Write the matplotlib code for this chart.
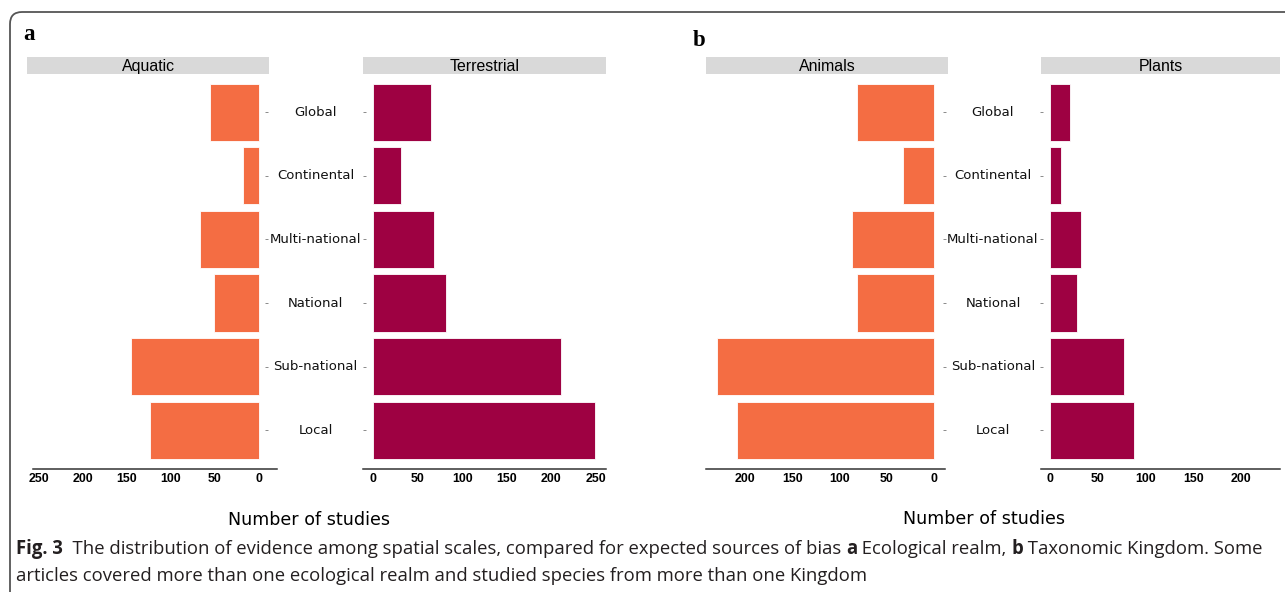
import matplotlib
matplotlib.use("Agg")
import matplotlib.pyplot as plt
from matplotlib.patches import FancyBboxPatch

W, H = 1285, 592

scales = ['Global', 'Continental', 'Multi-national', 'National', 'Sub-national', 'Local']
aquatic = [56, 18, 67, 51, 145, 124]
terrestrial = [65, 31, 68, 82, 211, 249]
animals = [81, 33, 87, 81, 230, 208]
plants = [21, 12, 32, 28, 78, 88]

left_ticks_a = [250, 200, 150, 100, 50, 0]
right_ticks_a = [0, 50, 100, 150, 200, 250]
left_ticks_b = [200, 150, 100, 50, 0]
right_ticks_b = [0, 50, 100, 150, 200]

ORANGE = '#F46D43'
CRIMSON = '#9E0142'
STRIP = '#D9D9D9'

fig = plt.figure(figsize=(W / 100, H / 100), dpi=100)


def px_axes(x0, y0, x1, y1):
    # pixel box (top-left origin) -> figure axes
    return fig.add_axes([x0 / W, 1 - y1 / H, (x1 - x0) / W, (y1 - y0) / H])


def bar_panel(x0, x1, values, color, xlim, ticks):
    ax = px_axes(x0, 74, x1, 468.5)
    ax.barh(range(len(values)), values, height=0.9, color=color,
            edgecolor='white', linewidth=0.6)
    ax.set_ylim(len(values) - 0.4, -0.6)
    ax.set_xlim(*xlim)
    ax.set_xticks(ticks)
    ax.set_xticklabels([str(t) for t in ticks], fontfamily='Liberation Sans',
                       fontweight='bold', fontsize=8.9)
    ax.tick_params(axis='x', length=0, pad=3.5)
    ax.set_yticks([])
    for s in ('top', 'left', 'right'):
        ax.spines[s].set_visible(False)
    ax.spines['bottom'].set_color('#333333')
    ax.spines['bottom'].set_linewidth(1.1)
    ax.set_facecolor('none')
    return ax


def strip(x0, x1, label):
    ax = px_axes(x0, 57, x1, 74)
    ax.set_facecolor(STRIP)
    ax.set_xticks([])
    ax.set_yticks([])
    for s in ax.spines.values():
        s.set_visible(False)
    ax.text(0.5, 0.47, label, transform=ax.transAxes, ha='center', va='center',
            fontfamily='Liberation Sans', fontsize=11.4)


def label_panel(x0, x1):
    ax = px_axes(x0, 74, x1, 468.5)
    ax.set_ylim(len(scales) - 0.4, -0.6)
    ax.set_xlim(0, 1)
    ax.set_yticks(range(len(scales)))
    ax.set_yticklabels([])
    ax.tick_params(axis='y', left=True, right=True, length=2, width=0.6,
                   color='#777777')
    ax.set_xticks([])
    for s in ax.spines.values():
        s.set_visible(False)
    ax.set_facecolor('none')
    for i, name in enumerate(scales):
        ax.text(0.5, i, name, ha='center', va='center', fontfamily='DejaVu Sans',
                fontsize=9.5, color='#111111')


# panel a
bar_panel(33, 277, aquatic, ORANGE, (256.8, -20.5), left_ticks_a)
bar_panel(363, 606, terrestrial, CRIMSON, (-11.2, 261.2), right_ticks_a)
label_panel(268, 363)
strip(27, 269, 'Aquatic')
strip(363, 606, 'Terrestrial')

# panel b
bar_panel(706, 945, animals, ORANGE, (241.3, -11.6), left_ticks_b)
bar_panel(1041, 1280, plants, CRIMSON, (-9.4, 240.8), right_ticks_b)
label_panel(946, 1040)
strip(706, 948, 'Animals')
strip(1041, 1280, 'Plants')

# panel letters
fig.text(23 / W, 1 - 34 / H, 'a', fontfamily='Liberation Serif', fontweight='bold',
         fontsize=16.5, ha='left', va='center')
fig.text(693 / W, 1 - 41 / H, 'b', fontfamily='Liberation Serif', fontweight='bold',
         fontsize=16.5, ha='left', va='center')

# axis titles
fig.text(309 / W, 1 - 520 / H, 'Number of studies', fontfamily='DejaVu Sans',
         fontsize=12.6, ha='center', va='center')
fig.text(984 / W, 1 - 519 / H, 'Number of studies', fontfamily='DejaVu Sans',
         fontsize=12.6, ha='center', va='center')

# frame
frame = FancyBboxPatch((10, -20), W + 40, H - 12 + 20, boxstyle='round,pad=0,rounding_size=12',
                       transform=None, fill=False, edgecolor='#555555', linewidth=1.3)
fig.patches.append(frame)

# caption, mixing bold and regular runs
renderer = fig.canvas.get_renderer()


def caption_line(parts, x, y):
    for txt, weight in parts:
        t = fig.text(x / W, 1 - y / H, txt, fontfamily='Open Sans', fontweight=weight,
                     fontsize=13.35, ha='left', va='center', color='#231F20')
        bb = t.get_window_extent(renderer)
        x = bb.x1


caption_line([('Fig. 3', 'bold'),
              ('  The distribution of evidence among spatial scales, compared for expected sources of bias ', 'normal'),
              ('a', 'bold'), (' Ecological realm, ', 'normal'), ('b', 'bold'),
              (' Taxonomic Kingdom. Some', 'normal')], 16, 549)
caption_line([('articles covered more than one ecological realm and studied species from more than one Kingdom',
               'normal')], 16, 576)

fig.savefig('out.png', dpi=100)
